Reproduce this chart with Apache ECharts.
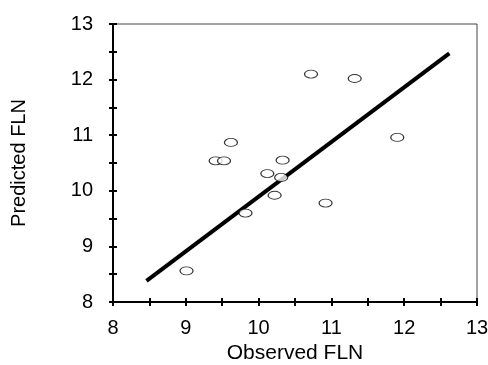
<!DOCTYPE html>
<html><head><meta charset="utf-8">
<script src="https://cdn.jsdelivr.net/npm/echarts@6/dist/echarts.min.js"></script>
<style>html,body{margin:0;padding:0;background:#fff}#c{width:488px;height:365px}</style>
</head><body><div id="c"></div>
<script>
const observed = [9.01, 9.41, 9.525, 9.62, 9.82, 10.12, 10.22, 10.31, 10.33, 10.72, 10.92, 11.32, 11.905];
const predicted = [8.56, 10.54, 10.54, 10.87, 9.60, 10.31, 9.92, 10.24, 10.55, 12.10, 9.78, 12.02, 10.96];
const fitX = [8.46, 12.62];
const fitY = [8.38, 12.47];
const tickLabels = ['8','9','10','11','12','13'];

const chart = echarts.init(document.getElementById('c'));
const font = 'Liberation Sans, Arial, sans-serif';
const lbl = v => (Math.abs(v - Math.round(v)) < 1e-6 ? tickLabels[Math.round(v) - 8] : '');
function axisBase(extra){
  return Object.assign({
    type:'value', min:8, max:13, interval:0.5,
    splitLine:{show:false},
  }, extra);
}
chart.setOption({
  animation:false,
  grid:{left:113,right:11,top:24,bottom:63,show:true,borderColor:'#444',borderWidth:1,
        containLabel:false,outerBoundsMode:'none'},
  xAxis:[
    axisBase({position:'bottom',
      name:'Observed FLN',nameLocation:'middle',nameGap:38,
      nameTextStyle:{fontFamily:font,fontSize:21,color:'#000'},
      axisLine:{lineStyle:{color:'#000',width:2}},
      axisTick:{inside:false,length:4,lineStyle:{color:'#000',width:2}},
      axisLabel:{formatter:lbl,margin:16,fontFamily:font,fontSize:20,color:'#000'}}),
    axisBase({position:'bottom',
      axisLine:{show:false},
      axisTick:{inside:true,length:4,lineStyle:{color:'#000',width:2}},
      axisLabel:{show:false}})
  ],
  yAxis:[
    axisBase({position:'left',
      name:'Predicted FLN',nameLocation:'middle',nameGap:84,nameRotate:90,
      nameTextStyle:{fontFamily:font,fontSize:20,color:'#000'},
      axisLine:{lineStyle:{color:'#000',width:2}},
      axisTick:{inside:false,length:4,lineStyle:{color:'#000',width:2}},
      axisLabel:{formatter:lbl,margin:20,padding:[0,0,8,0],fontFamily:font,fontSize:20,color:'#000'}}),
    axisBase({position:'left',
      axisLine:{show:false},
      axisTick:{inside:true,length:4,lineStyle:{color:'#000',width:2}},
      axisLabel:{show:false}})
  ],
  series:[
    {type:'line',xAxisIndex:0,yAxisIndex:0,data:fitX.map((x,i)=>[x,fitY[i]]),
     symbol:'none',lineStyle:{color:'#000',width:4},z:2},
    {type:'scatter',xAxisIndex:0,yAxisIndex:0,data:observed.map((x,i)=>[x,predicted[i]]),
     symbol:'path://M0,5 A10,5 0 1,1 20,5 A10,5 0 1,1 0,5 Z',symbolSize:[13,8],
     itemStyle:{color:'#fff',borderColor:'#000',borderWidth:1},z:3}
  ]
});
</script></body></html>
